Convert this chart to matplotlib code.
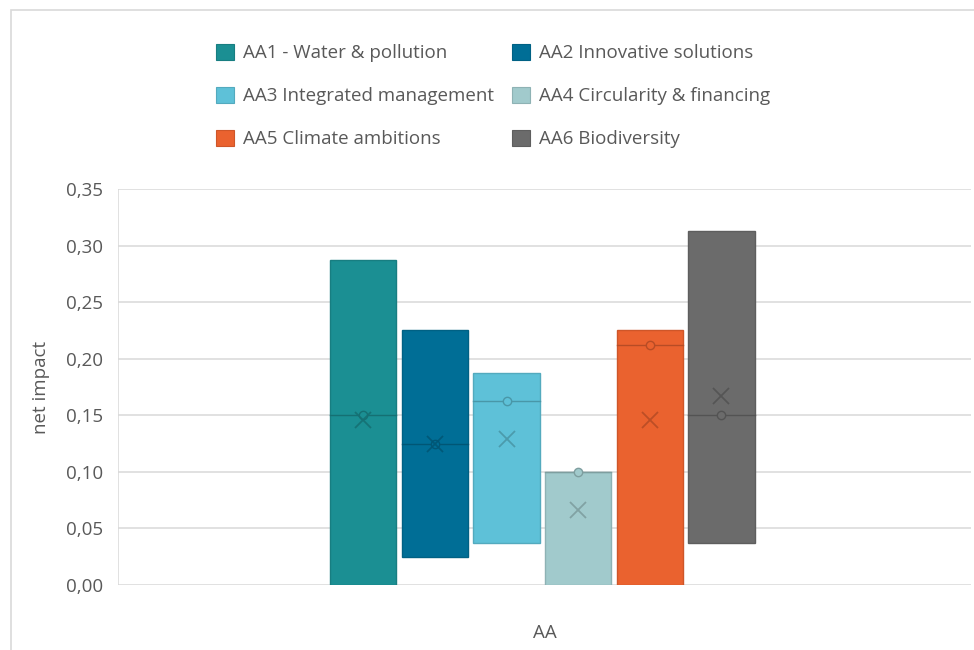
import numpy as np
import matplotlib
matplotlib.use("Agg")
import matplotlib.pyplot as plt
from matplotlib.patches import Rectangle, Patch
from matplotlib.colors import to_rgb

plt.rcParams['font.family'] = ['Open Sans', 'DejaVu Sans']

# Net impact observations per action area
series_names = ["AA1 - Water & pollution", "AA2 Innovative solutions",
                "AA3 Integrated management", "AA4 Circularity & financing",
                "AA5 Climate ambitions", "AA6 Biodiversity"]
aa1 = [0.0, 0.15, 0.2875]
aa2 = [0.025, 0.125, 0.225]
aa3 = [0.0375, 0.1625, 0.1875]
aa4 = [0.0, 0.10, 0.10]
aa5 = [0.0, 0.2125, 0.225]
aa6 = [0.0375, 0.15, 0.3125]
series_values = [aa1, aa2, aa3, aa4, aa5, aa6]
category = "AA"
y_ticks = [0.0, 0.05, 0.10, 0.15, 0.20, 0.25, 0.30, 0.35]

colors = ["#1b8f93", "#006e96", "#5ec1d8", "#a1cacc", "#ea622f", "#6b6b6b"]
text_color = "#595959"
grid_color = "#d9d9d9"
fs = 13.5


def darker(c, f=0.78):
    r, g, b = to_rgb(c)
    return (r * f, g * f, b * f)


W, H = 974, 650
fig = plt.figure(figsize=(W / 100, H / 100), dpi=100)
fig.patch.set_facecolor("white")

# chart area border
fig.patches.append(Rectangle((11 / W, -0.1), 1.2, 1 - 9.5 / H + 0.1,
                             transform=fig.transFigure, fill=False,
                             edgecolor="#d9d9d9", linewidth=1.2))

ax = fig.add_axes([118 / W, 1 - 585 / H, (971 - 118) / W, (585 - 189) / H])
ax.set_xlim(-0.5, 0.5)
ax.set_ylim(0, 0.35)

for y in y_ticks:
    ax.axhline(y, color=grid_color, linewidth=1.1, zorder=0)
ax.axvline(-0.5, color=grid_color, linewidth=1.1, zorder=0)
for s in ax.spines.values():
    s.set_visible(False)

spacing = 0.084
box_w = 0.0775
group_center = -0.0025
n = len(series_values)
for i, (vals, col) in enumerate(zip(series_values, colors)):
    vals = np.asarray(vals)
    q1, med, q3 = np.percentile(vals, [25, 50, 75], method="weibull")
    mean = vals.mean()
    x = group_center + (i - (n - 1) / 2) * spacing
    dk = darker(col)
    ax.add_patch(Rectangle((x - box_w / 2, q1), box_w, q3 - q1,
                           facecolor=col, edgecolor=darker(col, 0.88),
                           linewidth=1.0, zorder=2))
    ax.plot([x - box_w / 2, x + box_w / 2], [med, med], color=dk,
            linewidth=1.0, zorder=3)
    ax.plot([x], [med], marker="o", markersize=6, markerfacecolor=col,
            markeredgecolor=dk, markeredgewidth=1.0, zorder=4)
    ax.plot([x], [mean], marker="x", markersize=12, color=dk,
            markeredgewidth=1.3, zorder=5, alpha=0.9)

ax.set_yticks(y_ticks)
ax.set_yticklabels([f"{v:.2f}".replace(".", ",") for v in y_ticks],
                   fontsize=fs, color=text_color)
ax.tick_params(axis="y", length=0, pad=11)
ax.set_xticks([0.0])
ax.set_xticklabels([category], fontsize=fs, color=text_color)
ax.tick_params(axis="x", length=0, pad=28)
ax.set_ylabel("net impact", fontsize=fs, color=text_color, labelpad=11)

# legend in two columns, three rows
handles = [Patch(facecolor=c, edgecolor=darker(c, 0.88), linewidth=0.8) for c in colors]
order = [0, 2, 4, 1, 3, 5]
leg = fig.legend([handles[k] for k in order], [series_names[k] for k in order],
                 ncol=2, loc="center", bbox_to_anchor=(493 / W, 1 - 96 / H),
                 frameon=False, fontsize=fs, labelcolor=text_color,
                 handlelength=0.95, handleheight=0.95, handletextpad=0.5,
                 columnspacing=0.95, labelspacing=1.3)

fig.savefig("out.png", dpi=100)
